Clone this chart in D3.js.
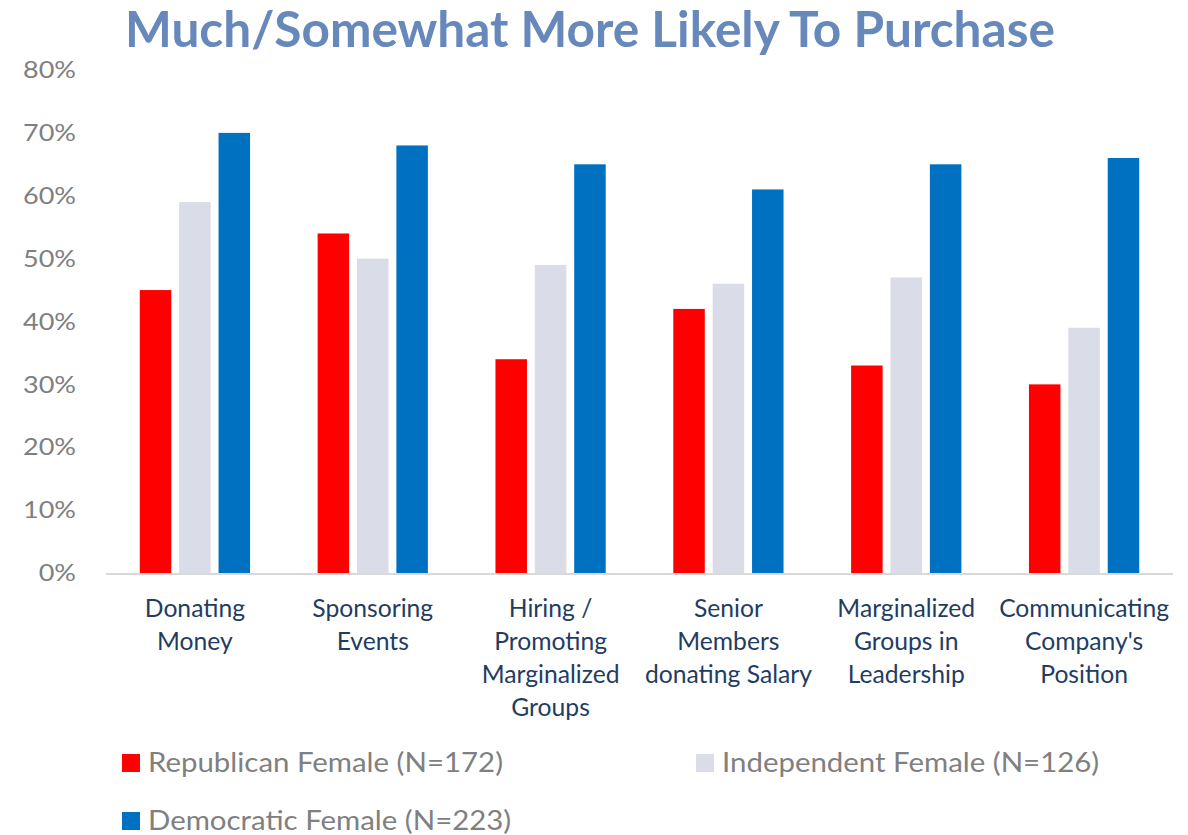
<!DOCTYPE html>
<html>
<head>
<meta charset="utf-8">
<script src="https://cdn.jsdelivr.net/npm/d3@7"></script>
<style>
  html, body { margin: 0; padding: 0; background: #fff; }
  svg { display: block; font-family: Lato, "Open Sans", sans-serif; }
</style>
</head>
<body>
<svg id="chart" width="1188" height="835"></svg>
<script>
// Categories (each label split into its display lines)
const categories = [
  ["Donating", "Money"],
  ["Sponsoring", "Events"],
  ["Hiring /", "Promoting", "Marginalized", "Groups"],
  ["Senior", "Members", "donating Salary"],
  ["Marginalized", "Groups in", "Leadership"],
  ["Communicating", "Company's", "Position"]
];
const seriesNames = [
  "Republican Female (N=172)",
  "Independent Female (N=126)",
  "Democratic Female (N=223)"
];
const republican  = [0.45, 0.54, 0.34, 0.42, 0.33, 0.30];
const independent = [0.59, 0.50, 0.49, 0.46, 0.47, 0.39];
const democratic  = [0.70, 0.68, 0.65, 0.61, 0.65, 0.66];
const yTicks = [0, 0.1, 0.2, 0.3, 0.4, 0.5, 0.6, 0.7, 0.8];
const colors = ["#ff0000", "#dadce7", "#0070c0"];

const series = [republican, independent, democratic];
const svg = d3.select("#chart");

// Scale a text's font size so that it spans the given width
function fitWidth(sel, target) {
  sel.each(function () {
    const el = d3.select(this);
    const fs = parseFloat(el.attr("font-size"));
    const w = this.getComputedTextLength();
    el.attr("font-size", (fs * target / w).toFixed(2));
  });
}
// Widen glyphs horizontally by a factor, keeping their height
function stretch(sel, factor) {
  sel.each(function () {
    const w = this.getComputedTextLength();
    d3.select(this)
      .attr("textLength", (w * factor).toFixed(1))
      .attr("lengthAdjust", "spacingAndGlyphs");
  });
}

const x = d3.scaleBand()
  .domain(d3.range(categories.length))
  .range([106, 1173])
  .paddingInner(0.38)
  .paddingOuter(0.19);

const xs = d3.scaleBand()
  .domain(d3.range(series.length))
  .range([0, x.bandwidth()])
  .paddingInner(0.2);

const y = d3.scaleLinear().domain([0, 0.8]).range([573, 70]);

// Title
const title = svg.append("text")
  .attr("x", 590).attr("y", 47)
  .attr("text-anchor", "middle")
  .attr("font-weight", "bold")
  .attr("font-size", 44)
  .attr("fill", "#6788bb")
  .text("Much/Somewhat More Likely To Purchase");
fitWidth(title, 930);

// Y axis labels (no gridlines, no axis line)
const yAxis = svg.append("g")
  .attr("transform", "translate(76,0)")
  .call(d3.axisLeft(y).tickValues(yTicks).tickFormat(d3.format(".0%")).tickSize(0).tickPadding(0));
yAxis.select(".domain").remove();
const tickText = yAxis.selectAll("text")
  .attr("font-family", "Lato, 'Open Sans', sans-serif")
  .attr("font-size", 24)
  .attr("fill", "#7f7f7f");
const ref10 = tickText.filter(d => d === 0.1).node().getComputedTextLength();
stretch(tickText, 53 / ref10);

// Bars
const groups = svg.append("g").selectAll("g")
  .data(categories)
  .join("g")
  .attr("transform", (d, i) => `translate(${x(i)},0)`);

groups.selectAll("rect")
  .data((d, i) => series.map((s, k) => ({ k, v: s[i] })))
  .join("rect")
  .attr("x", d => xs(d.k))
  .attr("width", xs.bandwidth())
  .attr("y", d => y(d.v))
  .attr("height", d => y(0) - y(d.v))
  .attr("fill", d => colors[d.k]);

// Baseline
svg.append("line")
  .attr("x1", 106).attr("x2", 1173)
  .attr("y1", y(0) + 1).attr("y2", y(0) + 1)
  .attr("stroke", "#d9d9d9").attr("stroke-width", 2);

// Category labels
const catLabels = groups.append("text")
  .attr("text-anchor", "middle")
  .attr("font-size", 24)
  .attr("fill", "#1f3d63");
catLabels.each(function (d) {
  const t = d3.select(this);
  d.forEach((line, j) => {
    t.append("tspan")
      .attr("x", x.bandwidth() / 2)
      .attr("y", 617 + j * 33)
      .text(line);
  });
});
const longest = catLabels.filter((d, i) => i === 5).select("tspan").node().getComputedTextLength();
catLabels.attr("font-size", (24 * 170 / longest).toFixed(2));

// Legend
const legendPos = [[122, 754], [696, 754], [122, 812]];
const legend = svg.append("g").selectAll("g")
  .data(seriesNames)
  .join("g")
  .attr("transform", (d, i) => `translate(${legendPos[i][0]},${legendPos[i][1]})`);
legend.append("rect")
  .attr("width", 18).attr("height", 18)
  .attr("fill", (d, i) => colors[i]);
const legendText = legend.append("text")
  .attr("x", 26).attr("y", 18)
  .attr("font-size", 26)
  .attr("fill", "#808080")
  .text(d => d);
const refLegend = legendText.filter((d, i) => i === 0).node().getComputedTextLength();
stretch(legendText, 355 / refLegend);
</script>
</body>
</html>
